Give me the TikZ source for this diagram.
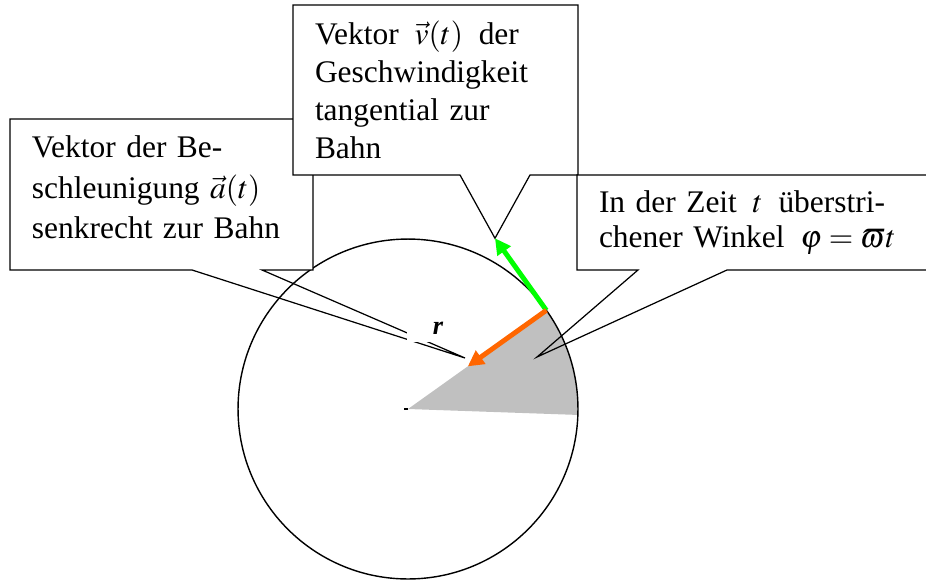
\documentclass[tikz,border=0pt]{standalone}
\usepackage{mathptmx}
\usepackage{fontspec}
\setmainfont{Liberation Serif}
\usepackage{tikz}
\usetikzlibrary{arrows.meta,calc}
\definecolor{sectorgray}{RGB}{192,192,192}
\definecolor{vgreen}{RGB}{0,255,0}
\definecolor{aorange}{RGB}{255,102,0}

\begin{document}
\begin{tikzpicture}[
  x=0.02cm, y=-0.02cm,
  callout/.style={fill=white, anchor=north west, align=left, inner xsep=0.44cm, inner ysep=0pt, outer sep=0pt},
  frame/.style={line width=0.7pt, line join=miter},
  vec/.style={line width=2.8pt, -{Triangle[length=9pt,width=9pt]}},
]
\useasboundingbox (0,0) rectangle (926,582);
\clip (0,0) rectangle (926,582);

\coordinate (C) at (408,409);
\coordinate (P) at ($(C)+(35.5:3.4cm)$);
\coordinate (vtip) at ($(P)+(125.5:1.77cm)$);
\coordinate (atip) at ($(P)+(215.5:1.93cm)$);
\coordinate (aptr) at (465,358);
\coordinate (wptr) at (537,357);

\fill[sectorgray] (C) -- (P) arc[start angle=35.5, end angle=-2, radius=3.4cm] -- cycle;
\draw[line width=0.8pt] (C) circle[radius=3.4cm];
\draw[line width=0.8pt] (C) -- ++(-4,0);

\node[callout, text width=5.18cm, minimum height=3.02cm, text depth=54pt, font=\fontsize{17.9}{23}\selectfont] (abox) at (10,119)
  {Vektor der Be-\\schleunigung $\vec a(t)$\\senkrecht zur Bahn};
\coordinate (ab1) at ($(abox.south west)+(182,0)$);
\coordinate (ab2) at ($(abox.south west)+(252,0)$);
\draw[frame] (ab1) -- (abox.south west) -- (abox.north west) -- (abox.north east) -- (abox.south east) -- (ab2) -- (aptr) -- cycle;

\node[callout, text width=4.82cm, minimum height=3.4cm, font=\fontsize{17.9}{21.7}\selectfont] (vbox) at (293,5)
  {Vektor \,$\vec v(t)$\, der\\Geschwindigkeit\\tangential zur\\Bahn};
\coordinate (vb1) at ($(vbox.south west)+(167,0)$);
\coordinate (vb2) at ($(vbox.south west)+(237,0)$);
\draw[frame] (vb1) -- (vbox.south west) -- (vbox.north west) -- (vbox.north east) -- (vbox.south east) -- (vb2) -- (vtip) -- cycle;

\node[callout, text width=6.58cm, minimum height=1.9cm, font=\fontsize{17.9}{19.8}\selectfont] (wbox) at (577,175)
  {In der Zeit \,$t$\, überstri-\\chener Winkel \,$\varphi=\varpi t$};
\coordinate (wb1) at ($(wbox.south west)+(61,0)$);
\coordinate (wb2) at ($(wbox.south west)+(150,0)$);
\draw[frame] (wb1) -- (wbox.south west) -- (wbox.north west) -- (wbox.north east) -- (wbox.south east) -- (wb2) -- (wptr) -- cycle;

\draw[vec, vgreen] (P) -- (vtip);
\draw[vec, aorange] (P) -- (atip);

\node[fill=white, inner sep=0pt, minimum width=1.24cm, minimum height=0.56cm, font=\fontsize{15}{15}\selectfont\bfseries\itshape] (rlab) at (438,328) {r};

\end{tikzpicture}
\end{document}
